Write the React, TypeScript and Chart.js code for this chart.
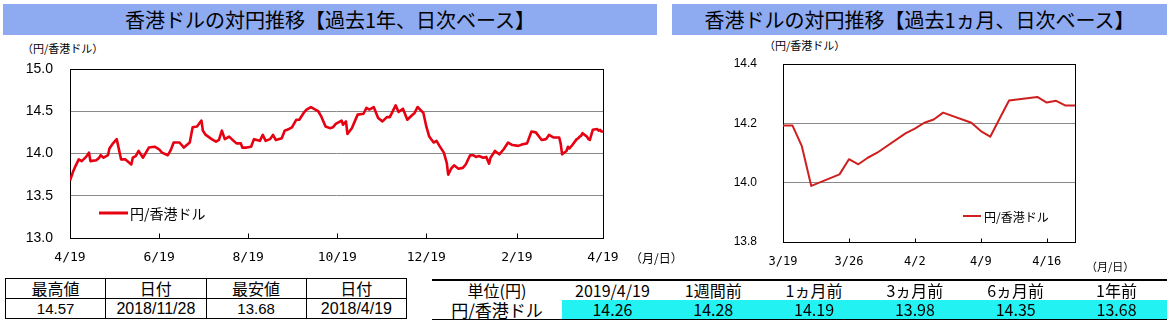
import React, { useEffect, useRef } from 'react';
import { Chart, registerables } from 'chart.js';

Chart.register(...registerables);

// ---------- data ----------
const seriesName = '円/香港ドル';
const titleYear = '香港ドルの対円推移【過去1年、日次ベース】';
const titleMonth = '香港ドルの対円推移【過去1ヵ月、日次ベース】';
const unitLabel = '（円/香港ドル）';
const dateUnitLabel = '（月/日）';

// 1-year chart: days since 2018/4/19 and rates
const yearDays = [
  0, 2, 4, 6, 8, 11, 13, 14, 18, 20, 21, 23, 26, 27, 29, 32, 35, 38, 42, 43,
  45, 47, 50, 52, 54, 58, 61, 63, 67, 69, 71, 75, 78, 82, 84, 87, 90, 91, 93, 97,
  100, 102, 104, 106, 109, 112, 114, 117, 118, 121, 124, 126, 130, 132, 134, 137, 139, 141, 145, 147,
  150, 152, 155, 157, 160, 162, 165, 168, 170, 172, 175, 178, 180, 182, 186, 187, 189, 190, 193, 195,
  197, 201, 203, 205, 208, 211, 214, 217, 219, 223, 225, 228, 231, 234, 236, 238, 242, 244, 246, 249,
  251, 253, 256, 258, 259, 261, 263, 266, 269, 271, 274, 276, 278, 280, 283, 285, 287, 288, 291, 294,
  297, 300, 303, 307, 310, 313, 316, 319, 323, 326, 328, 331, 334, 335, 336, 337, 340, 341, 342, 343,
  344, 347, 348, 349, 350, 351, 354, 355, 356, 357, 358, 361, 362, 363, 364, 365,
];
const yearValues = [
  13.68, 13.78, 13.86, 13.93, 13.91, 13.96, 14.01, 13.91, 13.92, 13.95, 13.98, 13.95, 13.98, 14.06, 14.11, 14.17, 13.93, 13.93, 13.87, 13.95,
  13.97, 14.03, 13.95, 14.01, 14.07, 14.08, 14.05, 14.01, 13.98, 14.04, 14.13, 14.13, 14.07, 14.13, 14.31, 14.32, 14.39, 14.27, 14.22, 14.17,
  14.14, 14.16, 14.27, 14.17, 14.20, 14.15, 14.12, 14.12, 14.07, 14.07, 14.08, 14.17, 14.15, 14.22, 14.15, 14.17, 14.22, 14.16, 14.18, 14.27,
  14.29, 14.31, 14.40, 14.40, 14.48, 14.52, 14.55, 14.52, 14.50, 14.44, 14.32, 14.30, 14.31, 14.35, 14.39, 14.34, 14.38, 14.23, 14.30, 14.38,
  14.46, 14.47, 14.54, 14.52, 14.55, 14.42, 14.38, 14.43, 14.43, 14.57, 14.49, 14.53, 14.40, 14.45, 14.48, 14.55, 14.48, 14.32, 14.20, 14.13,
  14.15, 14.09, 14.01, 13.89, 13.75, 13.82, 13.86, 13.82, 13.83, 13.87, 13.98, 13.98, 13.96, 13.97, 13.95, 13.96, 13.88, 13.95, 14.03, 13.99,
  14.05, 14.13, 14.10, 14.09, 14.11, 14.12, 14.26, 14.25, 14.16, 14.17, 14.22, 14.19, 14.19, 14.19, 14.12, 13.99, 14.03, 14.08, 14.06, 14.08,
  14.10, 14.17, 14.18, 14.20, 14.21, 14.24, 14.20, 14.17, 14.16, 14.22, 14.28, 14.29, 14.27, 14.28, 14.26, 14.26,
];
const yearTickDays = [0, 61, 122, 183, 244, 306, 365];
const yearTickLabels = ['4/19', '6/19', '8/19', '10/19', '12/19', '2/19', '4/19'];
const yearYTicks = [13.0, 13.5, 14.0, 14.5, 15.0];

// 1-month chart: days since 2019/3/19 and rates
const monthDays = [0, 1, 2, 3, 6, 7, 8, 9, 10, 13, 14, 15, 16, 17, 20, 21, 22, 23, 24, 27, 28, 29, 30, 31];
const monthValues = [
  14.193, 14.193, 14.123, 13.989, 14.028, 14.079, 14.062, 14.084, 14.101, 14.166, 14.182, 14.202,
  14.213, 14.236, 14.202, 14.174, 14.155, 14.216, 14.277, 14.289, 14.270, 14.276, 14.260, 14.260,
];
const monthTickDays = [0, 7, 14, 21, 28];
const monthTickLabels = ['3/19', '3/26', '4/2', '4/9', '4/16'];
const monthYTicks = [13.8, 14.0, 14.2, 14.4];

// tables
const statsHeaders = ['最高値', '日付', '最安値', '日付'];
const statsValues = ['14.57', '2018/11/28', '13.68', '2018/4/19'];
const compareHeaders = ['単位(円)', '2019/4/19', '1週間前', '1ヵ月前', '3ヵ月前', '6ヵ月前', '1年前'];
const compareRowLabel = '円/香港ドル';
const compareValues = ['14.26', '14.28', '14.19', '13.98', '14.35', '13.68'];

const JP = "'Noto Sans CJK JP', 'Noto Sans', sans-serif";

type ChartProps = {
  left: number; top: number; width: number; height: number;
  days: number[]; values: number[]; xMax: number;
  xTicks: number[]; xLabels: string[]; yTicks: number[];
  color: string; lineWidth: number;
  padding: { top: number; right: number; left: number; bottom: number };
  yWidth: number; xHeight: number; xPad: number; yPad: number;
  xFont: any; yFont: any; tickLen: number;
  legend: { dx: number; dy: number; len: number; lw: number; gap: number; font: string };
};

function LineChart(p: ChartProps) {
  const ref = useRef<HTMLCanvasElement>(null);
  useEffect(() => {
    const yMin = p.yTicks[0];
    const yMax = p.yTicks[p.yTicks.length - 1];
    const framePlugin = {
      id: 'frameLegend',
      beforeDatasetsDraw(chart: any) {
        const { ctx, chartArea: a, scales } = chart;
        ctx.save();
        ctx.strokeStyle = '#000';
        ctx.lineWidth = 1;
        const l = Math.round(a.left) + 0.5, t = Math.round(a.top) + 0.5;
        const r = Math.round(a.right) + 0.5, b = Math.round(a.bottom) + 0.5;
        ctx.strokeRect(l, t, r - l, b - t);
        ctx.beginPath();
        p.xTicks.forEach((v) => {
          const x = Math.round(scales.x.getPixelForValue(v)) + 0.5;
          if (x > l + 1 && x < r - 1) {
            ctx.moveTo(x, b);
            ctx.lineTo(x, b - p.tickLen);
          }
        });
        ctx.stroke();
        ctx.restore();
      },
      afterDraw(chart: any) {
        const { ctx, chartArea: a } = chart;
        const lg = p.legend;
        ctx.save();
        ctx.strokeStyle = p.color;
        ctx.lineWidth = lg.lw;
        ctx.beginPath();
        ctx.moveTo(a.left + lg.dx, a.top + lg.dy);
        ctx.lineTo(a.left + lg.dx + lg.len, a.top + lg.dy);
        ctx.stroke();
        ctx.fillStyle = '#000';
        ctx.font = lg.font;
        ctx.textBaseline = 'middle';
        ctx.fillText(seriesName, a.left + lg.dx + lg.len + lg.gap, a.top + lg.dy + 1);
        ctx.restore();
      },
    };
    const chart = new Chart(ref.current as HTMLCanvasElement, {
      type: 'line',
      data: {
        datasets: [
          {
            label: seriesName,
            data: p.days.map((d, i) => ({ x: d, y: p.values[i] })),
            borderColor: p.color,
            borderWidth: p.lineWidth,
            pointRadius: 0,
            tension: 0,
            fill: false,
            borderJoinStyle: 'round',
          } as any,
        ],
      },
      options: {
        responsive: false,
        maintainAspectRatio: false,
        animation: false,
        devicePixelRatio: 1,
        layout: { padding: p.padding },
        plugins: { legend: { display: false }, tooltip: { enabled: false } },
        scales: {
          x: {
            type: 'linear',
            min: 0,
            max: p.xMax,
            afterBuildTicks: (s: any) => { s.ticks = p.xTicks.map((v) => ({ value: v })); },
            afterFit: (s: any) => { s.height = p.xHeight; },
            ticks: {
              autoSkip: false,
              maxRotation: 0,
              minRotation: 0,
              padding: p.xPad,
              color: '#000',
              font: p.xFont,
              callback: (_v: any, i: number) => p.xLabels[i],
            },
            grid: { display: false, drawTicks: false },
            border: { display: false },
          },
          y: {
            type: 'linear',
            min: yMin,
            max: yMax,
            afterBuildTicks: (s: any) => { s.ticks = p.yTicks.map((v) => ({ value: v })); },
            afterFit: (s: any) => {
              s.width = p.yWidth;
              s.paddingTop = Math.min(s.paddingTop, p.padding.top);
            },
            ticks: {
              padding: p.yPad,
              color: '#000',
              font: p.yFont,
              callback: (v: any) => Number(v).toFixed(1),
            },
            grid: {
              color: '#8a8a8a',
              drawTicks: false,
              lineWidth: (c: any) => (c.tick && (Math.abs(c.tick.value - yMin) < 1e-6 || Math.abs(c.tick.value - yMax) < 1e-6) ? 0 : 1),
            },
            border: { display: false },
          },
        },
      } as any,
      plugins: [framePlugin],
    });
    return () => chart.destroy();
  }, []);
  return (
    <canvas
      ref={ref}
      width={p.width}
      height={p.height}
      style={{ position: 'absolute', left: p.left, top: p.top, width: p.width, height: p.height }}
    />
  );
}

const abs = (left: number, top: number, extra: any = {}) => ({ position: 'absolute' as const, left, top, whiteSpace: 'nowrap' as const, ...extra });

export default function App() {
  const titleStyle = {
    background: '#8eaaf0',
    height: 31,
    lineHeight: '31px',
    textAlign: 'center' as const,
    fontFamily: JP,
    fontSize: 20,
    color: '#000',
  };
  const cellL = {
    border: '1px solid #000',
    padding: 0,
    height: 19,
    lineHeight: '19px',
    textAlign: 'center' as const,
    fontFamily: `'Liberation Sans', ${JP}`,
    color: '#000',
    overflow: 'hidden',
  };
  const cellR = {
    padding: 0,
    height: 19,
    lineHeight: '19px',
    textAlign: 'center' as const,
    fontFamily: `'Liberation Sans Narrow', ${JP}`,
    color: '#000',
    overflow: 'hidden',
  };
  return (
    <div style={{ position: 'absolute', left: 0, top: 0, width: 1174, height: 328, background: '#fff', overflow: 'hidden' }}>
      <div style={{ ...abs(3, 4, { width: 654 }), ...titleStyle }}>{titleYear}</div>
      <div style={{ ...abs(672, 4, { width: 495 }), ...titleStyle }}>{titleMonth}</div>

      <div style={abs(22, 40, { fontFamily: JP, fontSize: 11, lineHeight: '16px' })}>{unitLabel}</div>
      <div style={abs(764, 37, { fontFamily: JP, fontSize: 11, lineHeight: '16px' })}>{unitLabel}</div>

      <LineChart
        left={0} top={40} width={660} height={232}
        days={yearDays} values={yearValues} xMax={365}
        xTicks={yearTickDays} xLabels={yearTickLabels} yTicks={yearYTicks}
        color="#e60012" lineWidth={2.6}
        padding={{ top: 29, right: 57, left: 0, bottom: 0 }}
        yWidth={70} xHeight={34} xPad={12} yPad={17}
        xFont={{ family: "'DejaVu Sans Mono', monospace", size: 13 }}
        yFont={{ family: "'Liberation Sans', Arial, sans-serif", size: 14 }}
        tickLen={5}
        legend={{ dx: 29, dy: 144, len: 29, lw: 3, gap: 2, font: `14px ${JP}` }}
      />
      <div style={abs(630, 250, { fontFamily: JP, fontSize: 12, lineHeight: '16px' })}>{dateUnitLabel}</div>

      <LineChart
        left={660} top={40} width={514} height={236}
        days={monthDays} values={monthValues} xMax={31}
        xTicks={monthTickDays} xLabels={monthTickLabels} yTicks={monthYTicks}
        color="#cf1f1f" lineWidth={2}
        padding={{ top: 24, right: 99, left: 0, bottom: 0 }}
        yWidth={123} xHeight={34} xPad={13} yPad={26}
        xFont={{ family: "'DejaVu Sans Mono', monospace", size: 12 }}
        yFont={{ family: "'Liberation Sans Narrow', 'Liberation Sans', Arial, sans-serif", size: 12 }}
        tickLen={4}
        legend={{ dx: 180, dy: 152, len: 18, lw: 2, gap: 3, font: `12px ${JP}` }}
      />
      <div style={abs(1086, 258, { fontFamily: JP, fontSize: 11, lineHeight: '16px' })}>{dateUnitLabel}</div>

      <table style={{ position: 'absolute', left: 5, top: 278, width: 402, borderCollapse: 'collapse', tableLayout: 'fixed' }}>
        <tbody>
          <tr>
            {statsHeaders.map((h, i) => (
              <td key={i} style={{ ...cellL, fontFamily: JP, fontSize: 16 }}>{h}</td>
            ))}
          </tr>
          <tr>
            {statsValues.map((v, i) => (
              <td key={i} style={{ ...cellL, fontSize: i % 2 === 1 ? 16 : 15 }}>{v}</td>
            ))}
          </tr>
        </tbody>
      </table>

      <table style={{ position: 'absolute', left: 432, top: 279, width: 735, borderCollapse: 'collapse', tableLayout: 'fixed', borderTop: '2px solid #000', borderBottom: '1px solid #000' }}>
        <colgroup>
          <col style={{ width: 130 }} />
          {compareValues.map((_, i) => <col key={i} style={{ width: 100.8 }} />)}
        </colgroup>
        <tbody>
          <tr>
            {compareHeaders.map((h, i) => (
              <td key={i} style={{ ...cellR, fontSize: 16 }}>{h}</td>
            ))}
          </tr>
          <tr>
            <td style={{ ...cellR, fontFamily: JP, fontSize: 17 }}>{compareRowLabel}</td>
            {compareValues.map((v, i) => (
              <td key={i} style={{ ...cellR, fontSize: 16, background: '#22f2f2' }}>{v}</td>
            ))}
          </tr>
        </tbody>
      </table>
    </div>
  );
}
